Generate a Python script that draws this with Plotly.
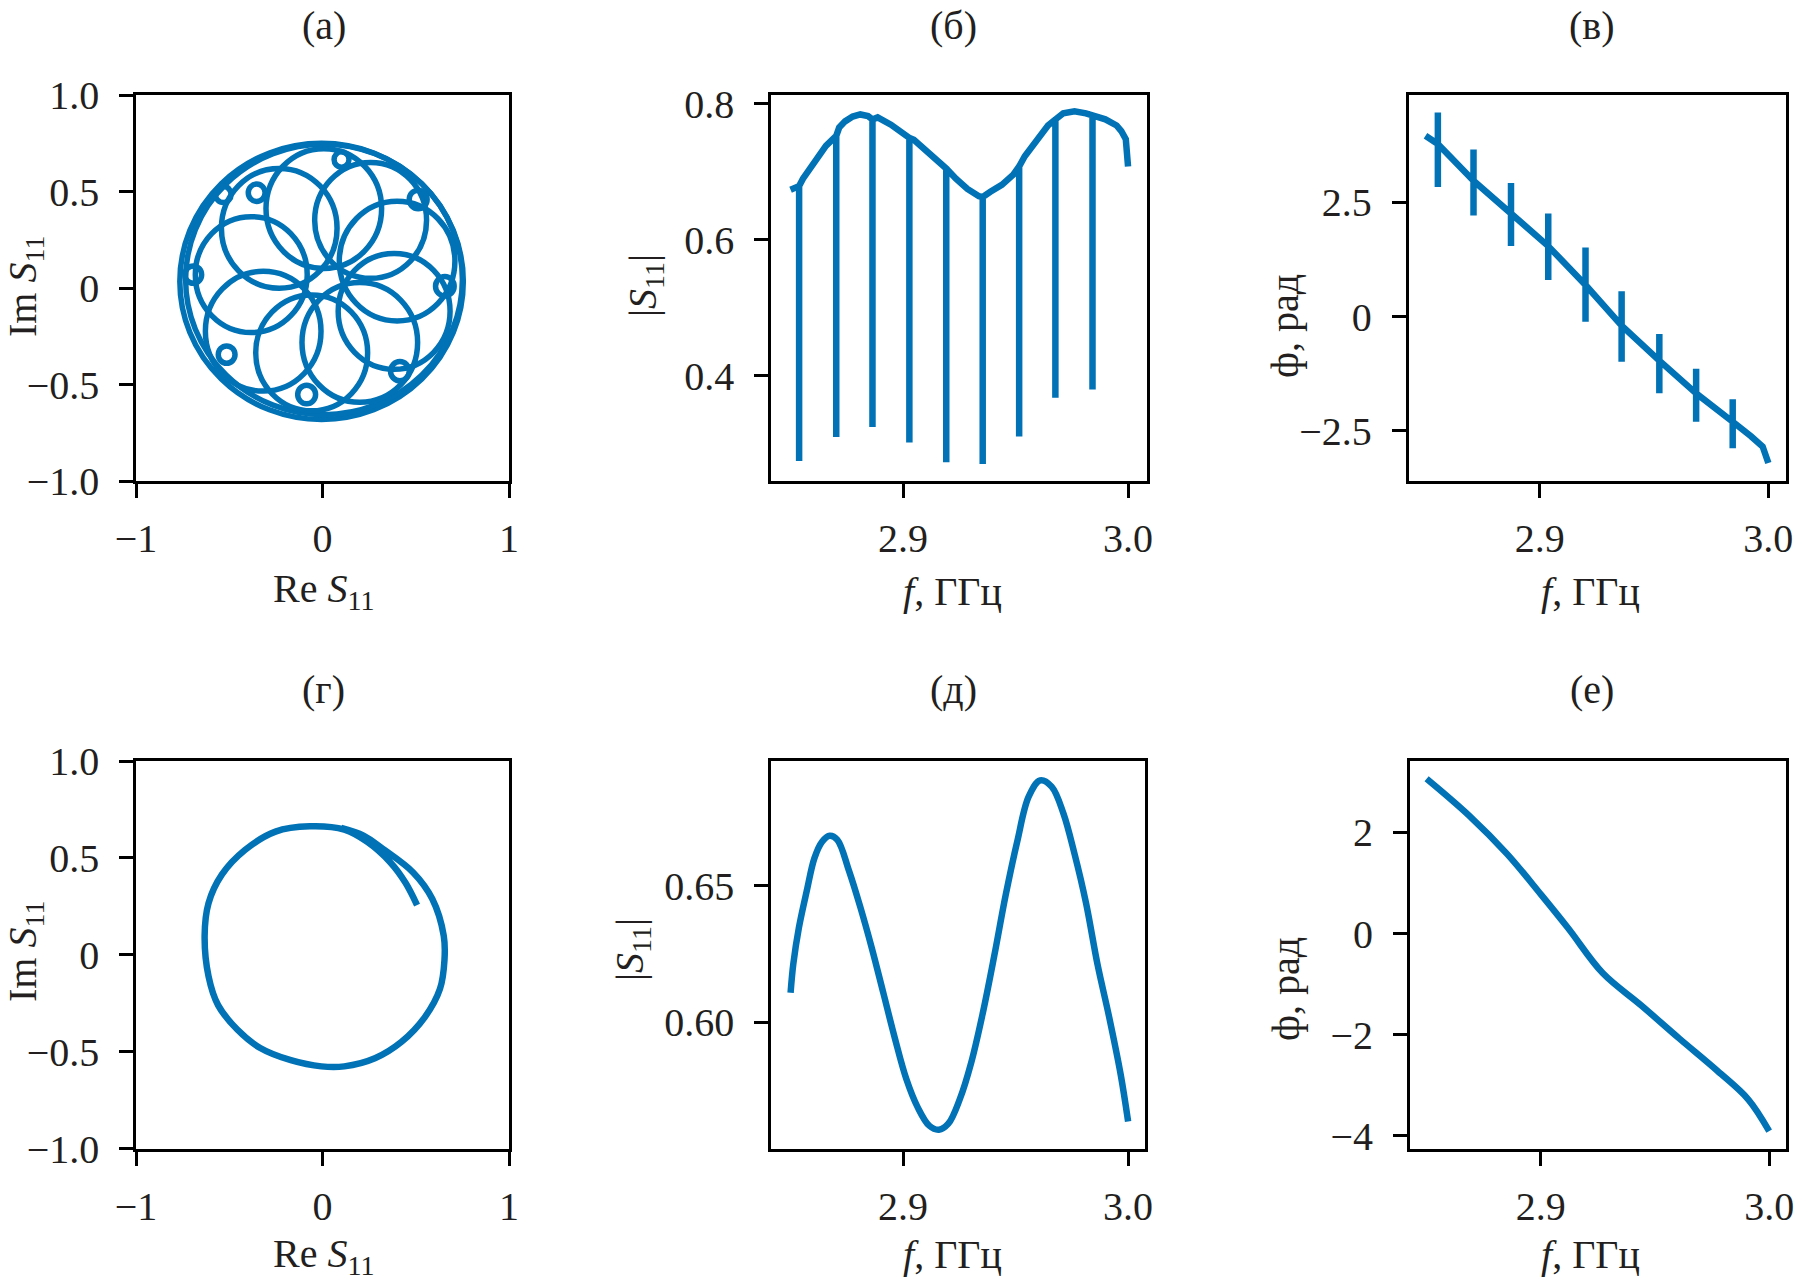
import plotly.graph_objects as go

BLUE = "#0072B5"
INK = "#231f20"
FONT = "Liberation Serif, Times New Roman, serif"
W, H = 1795, 1288

# ---------------- (а) Re/Im S11, many resonances ----------------
outer_re = [-0.005, 0.008]          # centres of the outer ring strands
outer_im = [0.035, 0.045]
outer_rx = [0.760, 0.742]
outer_ry = [0.715, 0.700]
petal_re = [0.007, 0.258, 0.400, 0.384, 0.200, -0.058, -0.318, -0.382, -0.232]
petal_im = [0.412, 0.351, 0.140, -0.120, -0.281, -0.335, -0.223, 0.070, 0.310]
petal_r = [0.31, 0.30, 0.31, 0.30, 0.31, 0.30, 0.31, 0.30, 0.31]
loop_re = [-0.532, -0.353, 0.102, 0.513, -0.693, 0.656, -0.514, 0.415, -0.085]
loop_im = [0.485, 0.494, 0.666, 0.459, 0.070, 0.010, -0.344, -0.430, -0.551]
loop_r = [0.042, 0.045, 0.040, 0.048, 0.045, 0.050, 0.045, 0.050, 0.048]

# ---------------- (б) |S11| with resonances ----------------
b_env_f = [2.8500, 2.8555, 2.8606, 2.8657, 2.8716, 2.8742, 2.8776, 2.8810, 2.8844,
           2.8887, 2.8946, 2.9048, 2.9099, 2.9150, 2.9235, 2.9286, 2.9337, 2.9388,
           2.9439, 2.9490, 2.9541, 2.9592, 2.9644, 2.9712, 2.9762, 2.9813, 2.9899,
           2.9949, 2.9970, 2.9990, 3.0000]
b_env_v = [0.6737, 0.6899, 0.7139, 0.7381, 0.7651, 0.7742, 0.7813, 0.7844, 0.7820,
           0.7801, 0.7693, 0.7471, 0.7320, 0.7170, 0.6899, 0.6749, 0.6641, 0.6706,
           0.6809, 0.6959, 0.7230, 0.7471, 0.7682, 0.7861, 0.7892, 0.7861, 0.7772,
           0.7682, 0.7600, 0.7480, 0.7080]
b_spike_f = [2.8538, 2.8703, 2.8864, 2.9028, 2.9192, 2.9354, 2.9516, 2.9677, 2.9842]
b_spike_top = [0.679, 0.753, 0.777, 0.750, 0.705, 0.663, 0.708, 0.777, 0.783]
b_spike_bottom = [0.275, 0.310, 0.325, 0.302, 0.273, 0.2705, 0.311, 0.368, 0.380]

# ---------------- (в) phase with resonances ----------------
c_line_f = [2.8500, 2.9924, 2.9975, 3.0000]
c_line_v = [3.950, -2.616, -2.840, -3.200]
c_spike_f = [2.8554, 2.8710, 2.8874, 2.9037, 2.9200, 2.9358, 2.9523, 2.9684, 2.9844]
c_spike_mid = [3.770, 2.966, 2.250, 1.538, 0.689, -0.200, -0.962, -1.678, -2.300]
c_spike_top = [4.460, 3.650, 2.920, 2.250, 1.509, 0.555, -0.383, -1.140, -1.810]
c_spike_bottom = [2.830, 2.210, 1.540, 0.796, -0.114, -0.988, -1.677, -2.300, -2.880]

# ---------------- (г) Re/Im S11, single loop ----------------
d_re = [0.100, 0.220, 0.322, 0.486, 0.589, 0.650, 0.654, 0.630, 0.548, 0.424, 0.281,
        0.117, -0.006, -0.170, -0.334, -0.457, -0.560, -0.611, -0.632, -0.611, -0.539,
        -0.416, -0.252, -0.068, 0.117, 0.240, 0.363, 0.445, 0.507]
d_im = [0.655, 0.615, 0.548, 0.425, 0.288, 0.099, -0.027, -0.175, -0.322, -0.448, -0.533,
        -0.575, -0.575, -0.543, -0.480, -0.385, -0.259, -0.111, 0.099, 0.267, 0.415,
        0.541, 0.636, 0.663, 0.646, 0.583, 0.478, 0.372, 0.257]

# ---------------- (д) |S11| ----------------
e_f = [2.8500, 2.8512, 2.8537, 2.8572, 2.8606, 2.8640, 2.8674, 2.8708, 2.8759, 2.8810,
       2.8861, 2.8912, 2.8963, 2.9014, 2.9065, 2.9116, 2.9159, 2.9201, 2.9252, 2.9303,
       2.9354, 2.9405, 2.9456, 2.9507, 2.9558, 2.9609, 2.9660, 2.9712, 2.9762, 2.9813,
       2.9864, 2.9916, 2.9967, 3.0000]
e_v = [0.6108, 0.6213, 0.6347, 0.6482, 0.6602, 0.6662, 0.6684, 0.6669, 0.6557, 0.6422,
       0.6272, 0.6108, 0.5943, 0.5793, 0.5688, 0.5621, 0.5606, 0.5628, 0.5718, 0.5853,
       0.6033, 0.6243, 0.6467, 0.6662, 0.6827, 0.6887, 0.6864, 0.6767, 0.6617, 0.6437,
       0.6212, 0.6018, 0.5808, 0.5636]

# ---------------- (е) phase ----------------
f_f = [2.8500, 2.8685, 2.8853, 2.9003, 2.9120, 2.9271, 2.9439, 2.9607, 2.9774, 2.9908, 3.0000]
f_v = [3.065, 2.340, 1.572, 0.760, 0.104, -0.783, -1.420, -2.080, -2.720, -3.280, -3.910]

# tick labels
ri_vals = [-1, 0, 1]
ri_text = ["\u22121", "0", "1"]
im_vals = [1.0, 0.5, 0, -0.5, -1.0]
im_text = ["1.0", "0.5", "0", "\u22120.5", "\u22121.0"]
f_vals = [2.9, 3.0]
f_text = ["2.9", "3.0"]
b_vals = [0.4, 0.6, 0.8]
b_text = ["0.4", "0.6", "0.8"]
c_vals = [2.5, 0, -2.5]
c_text = ["2.5", "0", "\u22122.5"]
e_vals = [0.60, 0.65]
e_text = ["0.60", "0.65"]
fph_vals = [2, 0, -2, -4]
fph_text = ["2", "0", "\u22122", "\u22124"]


def build_spiky(base_f, base_v, sp_f, seqs):
    pts = [(f, 0, v) for f, v in zip(base_f, base_v)]
    for i, f in enumerate(sp_f):
        for j, seq in enumerate(seqs):
            pts.append((f, j + 1, seq[i]))
    pts.sort(key=lambda p: (p[0], p[1]))
    return [p[0] for p in pts], [p[2] for p in pts]


bx, by = build_spiky(b_env_f, b_env_v, b_spike_f, [b_spike_top, b_spike_bottom, b_spike_top])
cx, cy = build_spiky(c_line_f, c_line_v, c_spike_f,
                     [c_spike_mid, c_spike_top, c_spike_bottom, c_spike_mid])

fig = go.Figure()
LW = 6.5
fig.add_trace(go.Scatter(x=bx, y=by, mode="lines", line=dict(color=BLUE, width=LW),
                         xaxis="x2", yaxis="y2", showlegend=False))
fig.add_trace(go.Scatter(x=cx, y=cy, mode="lines", line=dict(color=BLUE, width=LW),
                         xaxis="x3", yaxis="y3", showlegend=False))
fig.add_trace(go.Scatter(x=d_re, y=d_im, mode="lines", line=dict(color=BLUE, width=LW, shape="spline"),
                         xaxis="x4", yaxis="y4", showlegend=False))
fig.add_trace(go.Scatter(x=e_f, y=e_v, mode="lines", line=dict(color=BLUE, width=LW, shape="spline"),
                         xaxis="x5", yaxis="y5", showlegend=False))
fig.add_trace(go.Scatter(x=f_f, y=f_v, mode="lines", line=dict(color=BLUE, width=LW, shape="spline"),
                         xaxis="x6", yaxis="y6", showlegend=False))

SW = 5.5
shapes = []
for cxx, cyy, rx, ry in zip(outer_re, outer_im, outer_rx, outer_ry):
    shapes.append(dict(type="circle", xref="x", yref="y", x0=cxx - rx, x1=cxx + rx,
                       y0=cyy - ry, y1=cyy + ry, line=dict(color=BLUE, width=SW)))
for cxx, cyy, r in zip(petal_re, petal_im, petal_r):
    shapes.append(dict(type="circle", xref="x", yref="y", x0=cxx - r, x1=cxx + r,
                       y0=cyy - r, y1=cyy + r, line=dict(color=BLUE, width=SW)))
for cxx, cyy, r in zip(loop_re, loop_im, loop_r):
    shapes.append(dict(type="circle", xref="x", yref="y", x0=cxx - r, x1=cxx + r,
                       y0=cyy - r, y1=cyy + r, line=dict(color=BLUE, width=SW)))


def px(x):
    return x / W


def py(y):
    return 1 - y / H


def axis(dom, rng, vals, text, anchor, standoff):
    return dict(domain=dom, range=rng, tickmode="array", tickvals=vals, ticktext=text,
                showline=True, mirror=True, linecolor="black", linewidth=2.5,
                ticks="outside", ticklen=14, tickwidth=2.5, tickcolor="black",
                showgrid=False, zeroline=False, anchor=anchor, fixedrange=True,
                automargin=False, ticklabelstandoff=standoff, ticklabeloverflow="allow",
                tickfont=dict(family=FONT, size=40, color=INK))


top = [py(481.3), py(95)]
bot = [py(1148.8), py(761)]
xa = [px(136), px(509)]
xb = [px(771), px(1146.5)]
xc = [px(1408.6), px(1785.5)]
xe = [px(771), px(1145)]
xf = [px(1409.7), px(1786.3)]
XS, YS = 6, 12

layout = dict(
    template="none",
    width=W, height=H, margin=dict(l=0, r=0, t=0, b=0, pad=0), autosize=False,
    paper_bgcolor="white", plot_bgcolor="white", showlegend=False,
    xaxis=axis(xa, [-1, 1], ri_vals, ri_text, "y", XS),
    yaxis=axis(top, [-1, 1], im_vals, im_text, "x", YS),
    xaxis2=axis(xb, [2.8413, 3.0082], f_vals, f_text, "y2", XS),
    yaxis2=axis(top, [0.245, 0.813], b_vals, b_text, "x2", YS),
    xaxis3=axis(xc, [2.8426, 3.0075], f_vals, f_text, "y3", XS),
    yaxis3=axis(top, [-3.6, 4.84], c_vals, c_text, "x3", YS),
    xaxis4=axis(xa, [-1, 1], ri_vals, ri_text, "y4", XS),
    yaxis4=axis(bot, [-1, 1], im_vals, im_text, "x4", YS),
    xaxis5=axis(xe, [2.8413, 3.0075], f_vals, f_text, "y5", XS),
    yaxis5=axis(bot, [0.5536, 0.6958], e_vals, e_text, "x5", YS),
    xaxis6=axis(xf, [2.8426, 3.0075], f_vals, f_text, "y6", XS),
    yaxis6=axis(bot, [-4.26, 3.414], fph_vals, fph_text, "x6", YS),
    shapes=shapes,
)
fig.update_layout(**layout)

S11 = "<i>S</i><sub>11</sub>"
ann = [
    ("(а)", 324, 25, 0), ("(б)", 954, 25, 0), ("(в)", 1592, 25, 0),
    ("(г)", 323, 689, 0), ("(д)", 954, 689, 0), ("(е)", 1592, 689, 0),
    ("Re " + S11, 323, 591, 0), ("<i>f</i>, ГГц", 952, 591, 0), ("<i>f</i>, ГГц", 1590, 591, 0),
    ("Re " + S11, 323, 1256, 0), ("<i>f</i>, ГГц", 952, 1254, 0), ("<i>f</i>, ГГц", 1590, 1254, 0),
    ("Im " + S11, 25, 287, -90), ("|" + S11 + "|", 645, 286, -90), ("ф, рад", 1285, 326, -90),
    ("Im " + S11, 25, 952, -90), ("|" + S11 + "|", 632, 950, -90), ("ф, рад", 1285, 989, -90),
]
for text, x, y, ang in ann:
    fig.add_annotation(text=text, x=px(x), y=py(y), xref="paper", yref="paper",
                       xanchor="center", yanchor="middle", showarrow=False, textangle=ang,
                       font=dict(family=FONT, size=40, color=INK))

fig.write_html("out.html", config={"responsive": False, "displayModeBar": False},
               post_script="document.body.style.margin='0';document.body.style.overflow='hidden';")
